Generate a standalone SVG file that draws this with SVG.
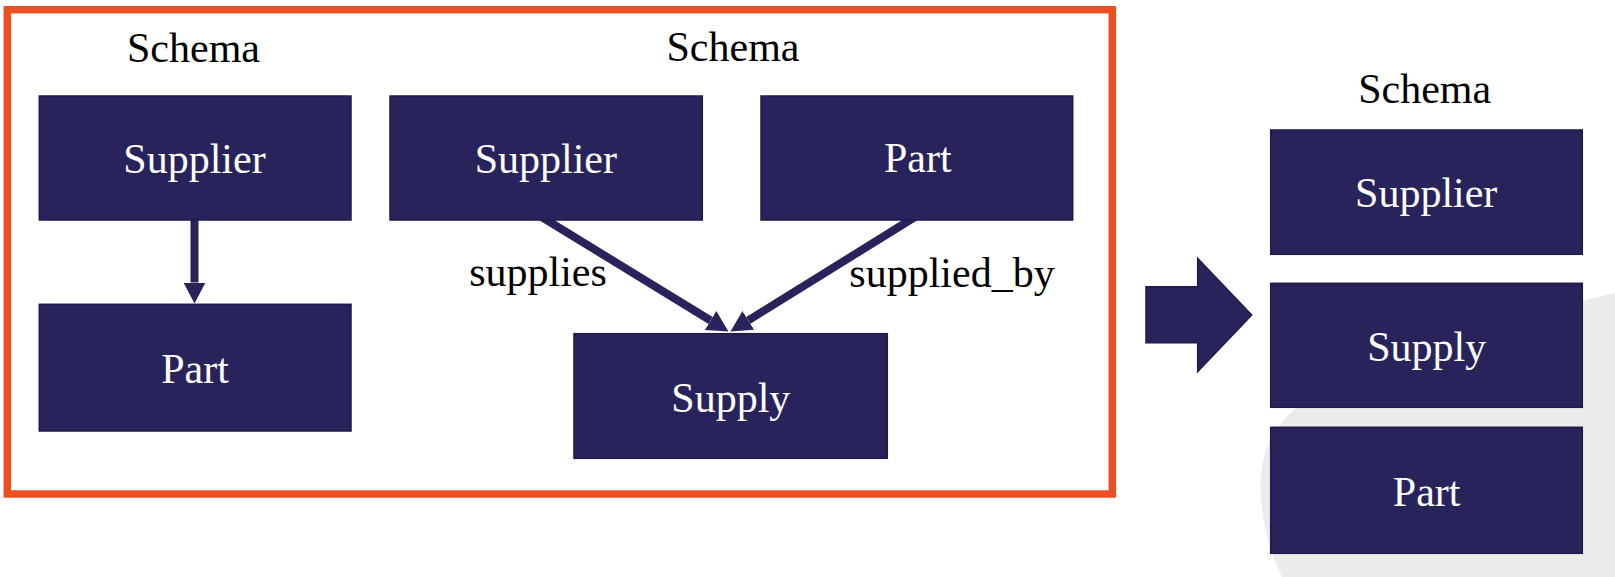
<svg xmlns="http://www.w3.org/2000/svg" width="1615" height="577" viewBox="0 0 1615 577">
<style>
.box{fill:#29235C;stroke:#1E1A4C;stroke-width:1.5}
.nt{font-family:"Liberation Serif",serif;font-size:42px;fill:#FFFFFF;text-anchor:middle}
.lt{font-family:"Liberation Serif",serif;font-size:42px;fill:#000000;text-anchor:middle}
.conn{stroke:#29235C;stroke-width:8;fill:none}
</style>
<defs>
<marker id="ah" viewBox="0 0 21 22" markerUnits="userSpaceOnUse" markerWidth="21" markerHeight="22" refX="0" refY="11" orient="auto">
<path d="M0,0 L21,11 L0,22 Z" fill="#29235C"/>
</marker>
</defs>
<rect width="1615" height="577" fill="#FFFFFF"/>
<path id="bg-shape" d="M1615,292.7 C1520,315 1380,360 1305,402 C1272,422 1259,458 1260.7,490 C1262,525 1270,552 1282,577 L1615,577 Z" fill="#EBEBEB"/>
<rect id="frame" x="7.3" y="9.7" width="1105" height="484.3" fill="none" stroke="#EC5022" stroke-width="7.5"/>
<text class="lt" x="193.5" y="61.5">Schema</text>
<text class="lt" x="733" y="61">Schema</text>
<text class="lt" x="1424.7" y="103.3">Schema</text>
<g id="connectors">
<line class="conn" x1="194.5" y1="215" x2="194.5" y2="282.5" marker-end="url(#ah)"/>
<line class="conn" x1="533.5" y1="212" x2="710.6" y2="320.5" marker-end="url(#ah)"/>
<line class="conn" x1="923" y1="212" x2="748.3" y2="320.4" marker-end="url(#ah)"/>
<text class="lt" x="538" y="285.7">supplies</text>
<text class="lt" x="952" y="286.7">supplied_by</text>
</g>
<g id="left-supplier"><rect class="box" x="39.3" y="96" width="311.7" height="124"/><text class="nt" x="194.5" y="173">Supplier</text></g>
<g id="left-part"><rect class="box" x="39.3" y="304.3" width="311.7" height="126.7"/><text class="nt" x="195" y="383.3">Part</text></g>
<g id="mid-supplier"><rect class="box" x="390" y="96" width="312.3" height="124"/><text class="nt" x="545.8" y="173">Supplier</text></g>
<g id="mid-part"><rect class="box" x="761" y="96" width="311.7" height="124"/><text class="nt" x="917.8" y="172.3">Part</text></g>
<g id="mid-supply"><rect class="box" x="574" y="333.7" width="313.3" height="124.6"/><text class="nt" x="730.8" y="411.7">Supply</text></g>
<g id="big-arrow"><polygon points="1146,286.7 1197.7,286.7 1197.7,258.3 1251.7,315 1197.7,371.7 1197.7,342.7 1146,342.7" fill="#29235C" stroke="#1E1A4C" stroke-width="1.5"/></g>
<g id="right-supplier"><rect class="box" x="1270.7" y="130" width="311.6" height="124.3"/><text class="nt" x="1426.2" y="206.7">Supplier</text></g>
<g id="right-supply"><rect class="box" x="1270.7" y="283.3" width="311.6" height="124"/><text class="nt" x="1426.7" y="360.7">Supply</text></g>
<g id="right-part"><rect class="box" x="1270.7" y="427.3" width="311.6" height="126"/><text class="nt" x="1426.7" y="505.5">Part</text></g>
</svg>
